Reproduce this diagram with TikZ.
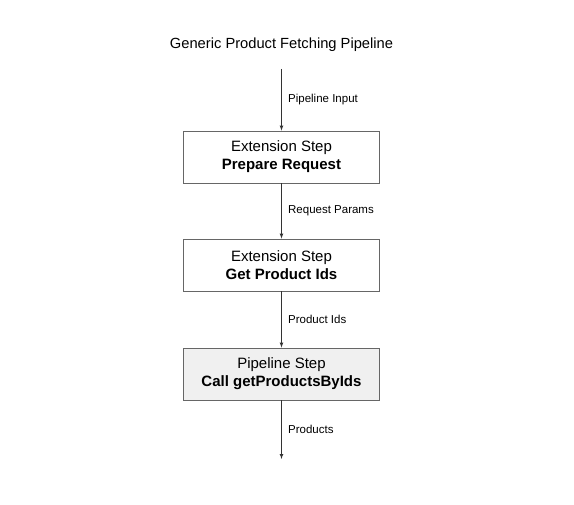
\documentclass[tikz,border=0pt]{standalone}
\usepackage{fontspec}
\setmainfont{Liberation Sans}
\usetikzlibrary{arrows,positioning}

\begin{document}
\begin{tikzpicture}[x=1pt, y=-1pt]
\tikzstyle{stepbox} = [draw=black!60, line width=0.8pt, fill=white,
  minimum width=196pt, minimum height=52pt, align=center,
  font=\fontsize{15}{18}\selectfont]
\tikzstyle{flow} = [->, >=latex, draw=black!80, line width=0.7pt]
\tikzstyle{note} = [right=3pt, font=\fontsize{11.5}{14}\selectfont]

\useasboundingbox (0,0) rectangle (574,505);

\node[font=\fontsize{14.7}{18}\selectfont] (title) at (281.5,45)
  {Generic Product Fetching Pipeline};

\coordinate (input) at (281.5,69);
\node[stepbox] (prepare) at (281.5,157)
  {Extension Step\\ \textbf{Prepare Request}};
\node[stepbox] (getids) at (281.5,265)
  {Extension Step\\ \textbf{Get Product Ids}};
\node[stepbox, fill=black!6] (fetch) at (281.5,374)
  {Pipeline Step\\ \textbf{Call getProductsByIds}};
\coordinate (output) at (281.5,459);

\draw[flow] (input) -- (prepare.north)
  node[midway, note] {Pipeline Input};
\draw[flow] (prepare) -- (getids)
  node[midway, note] {Request Params};
\draw[flow] (getids) -- (fetch)
  node[midway, note] {Product Ids};
\draw[flow] (fetch) -- (output)
  node[midway, note] {Products};
\end{tikzpicture}
\end{document}
